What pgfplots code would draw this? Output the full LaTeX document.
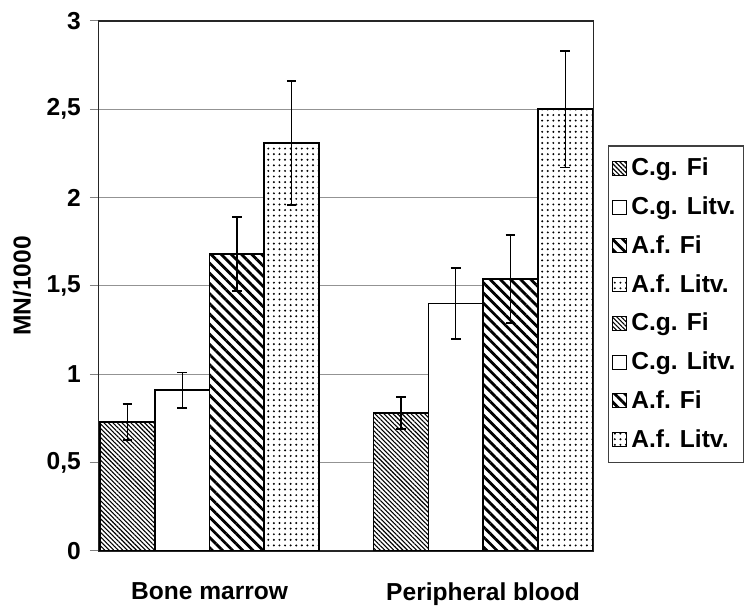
\documentclass[border=0pt]{standalone}
\usepackage{fontspec}
\setmainfont{Liberation Sans}
\usepackage{pgfplots}
\pgfplotsset{compat=1.18}
\usetikzlibrary{patterns.meta}
\newcommand\lbl{\fontsize{12.3}{14}\selectfont\bfseries}
\tikzset{
  cgfi/.style={draw=black, line width=0.8pt, fill=white, postaction={pattern={Lines[angle=-45, distance=1.6pt, line width=0.55pt]}}},
  cglitv/.style={draw=black, line width=0.8pt, fill=white},
  affi/.style={draw=black, line width=0.8pt, fill=white, postaction={pattern={Lines[angle=-45, distance=3.6pt, line width=1.4pt]}}},
  aflitv/.style={draw=black, line width=0.8pt, fill=white, postaction={pattern={Dots[distance=2.8pt, radius=0.55pt]}}},
}
\begin{document}
\begin{tikzpicture}
\begin{axis}[
  at={(0,0)}, anchor=south west,
  scale only axis, width=248pt, height=265.5pt,
  ybar=0pt, bar width=0.2,
  xmin=-0.405, xmax=1.405, ymin=0, ymax=3,
  xtick={0,1}, xticklabels={Bone marrow, Peripheral blood},
  xtick style={draw=none},
  xticklabel style={font=\lbl, yshift=-8pt},
  ytick={0,0.5,1,1.5,2,2.5,3},
  ytick pos=left, tick align=outside, major tick length=4.5pt,
  ytick style={gray, line width=0.5pt},
  yticklabel style={font=\lbl, xshift=-1pt},
  /pgf/number format/.cd, use comma, assume math mode=true, /pgfplots/.cd,
  ymajorgrids, major grid style={gray!85, line width=0.5pt},
  axis line style={black!85, line width=0.6pt},
  ylabel={MN/1000},
  every axis y label/.style={at={(axis description cs:-0.155,0.5)}, rotate=90, anchor=center, font=\lbl},
  legend image code/.code={\draw[#1, line width=0.5pt] (0pt,-3.5pt) rectangle (7pt,3.5pt);},
  legend style={at={(axis description cs:1.028,0.765)}, anchor=north west, draw=black!75, line width=0.6pt,
    font=\lbl, row sep=5pt, inner xsep=2pt, inner ysep=4pt,
    /tikz/every even column/.append style={column sep=2pt}},
  legend cell align=left,
  error bars/y dir=both, error bars/y explicit,
  error bars/error bar style={black, line width=0.6pt},
  error bars/error mark options={rotate=90, mark size=2.4pt, line width=0.9pt, black},
]
\addplot[cgfi] coordinates {(0,0.73) +- (0,0.10) (1,0.78) +- (0,0.09)};
\addlegendentry{C.g. Fi}
\addplot[cglitv] coordinates {(0,0.91) +- (0,0.10) (1,1.40) +- (0,0.20)};
\addlegendentry{C.g. Litv.}
\addplot[affi] coordinates {(0,1.68) +- (0,0.21) (1,1.54) +- (0,0.25)};
\addlegendentry{A.f. Fi}
\addplot[aflitv] coordinates {(0,2.31) +- (0,0.35) (1,2.50) +- (0,0.33)};
\addlegendentry{A.f. Litv.}
\addlegendimage{cgfi}\addlegendentry{C.g. Fi}
\addlegendimage{cglitv}\addlegendentry{C.g. Litv.}
\addlegendimage{affi}\addlegendentry{A.f. Fi}
\addlegendimage{aflitv}\addlegendentry{A.f. Litv.}
\end{axis}
\path[use as bounding box] (-49.5pt,-24.5pt) rectangle (322.5pt,276pt);
\end{tikzpicture}
\end{document}
